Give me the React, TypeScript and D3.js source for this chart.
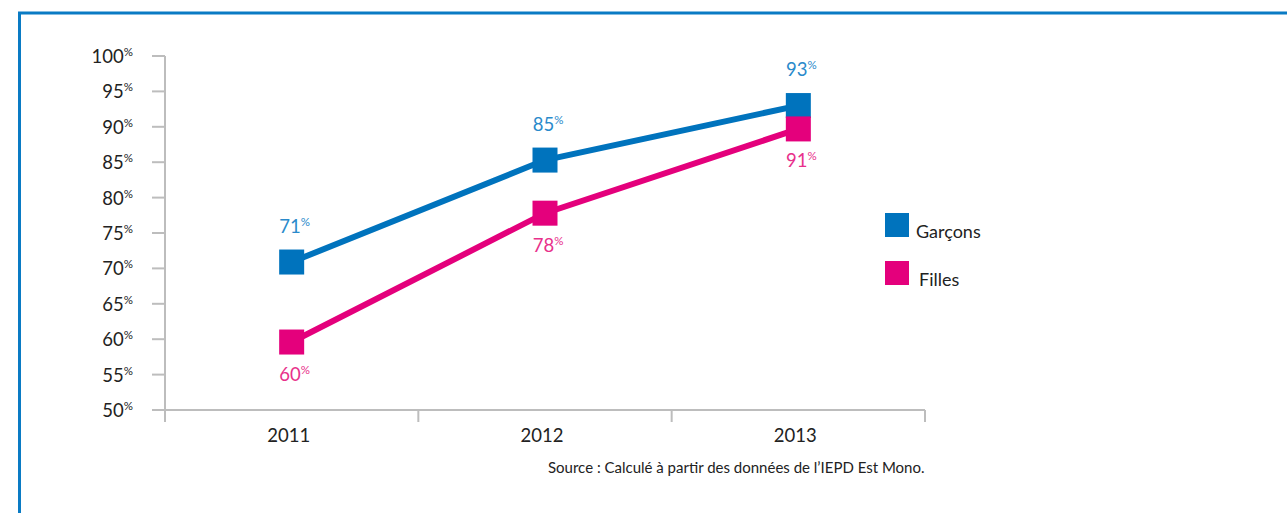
import React from "react";
import * as d3 from "d3";

const years = ["2011", "2012", "2013"];
const garcons = [70.9, 85.3, 93.0];
const filles = [59.6, 77.8, 89.7];
const garconsLabels = ["71", "85", "93"];
const fillesLabels = ["60", "78", "91"];
const yTicks = [50, 55, 60, 65, 70, 75, 80, 85, 90, 95, 100];
const seriesNames = ["Garçons", "Filles"];
const source = "Source : Calculé à partir des données de l’IEPD Est Mono.";

const BLUE = "#0073bd";
const PINK = "#e4007c";
const BLUE_TXT = "#2a8acb";
const PINK_TXT = "#e8308b";
const AXIS = "#bdbdbd";
const FONT = "Lato, 'Open Sans', sans-serif";

export default function App() {
  const W = 1287, H = 513;
  const x = d3.scaleBand<string>().domain(years).range([165, 925]).padding(0);
  const y = d3.scaleLinear().domain([50, 100]).range([410, 56]);
  const cx = (d: string) => (x(d) as number) + x.bandwidth() / 2;
  const line = d3.line<number>().x((_, i) => cx(years[i])).y((v) => y(v));
  const sq = 25;
  const boundaries = [...years.map((d) => x(d) as number), 925];

  return (
    <svg width={W} height={H} style={{ position: "absolute", left: 0, top: 0, background: "#fff" }}>
      <rect x={19.5} y={13} width={W + 20} height={H + 20} fill="none" stroke="#0a7bc4" strokeWidth={3} />
      {/* y axis */}
      <line x1={165} x2={165} y1={y(100)} y2={y(50) + 12} stroke={AXIS} strokeWidth={2} />
      {yTicks.map((t) => (
        <g key={t}>
          <line x1={152} x2={165} y1={y(t)} y2={y(t)} stroke={AXIS} strokeWidth={2} />
          <text x={133} y={y(t) + 7} textAnchor="end" fontFamily={FONT} fill="#222" fontSize={18.5}>
            {t}
            <tspan fontSize={11.5} dy={-7}>%</tspan>
          </text>
        </g>
      ))}
      {/* x axis */}
      <line x1={152} x2={925} y1={y(50)} y2={y(50)} stroke={AXIS} strokeWidth={2} />
      {boundaries.slice(1).map((b, i) => (
        <line key={i} x1={b} x2={b} y1={y(50)} y2={y(50) + 12} stroke={AXIS} strokeWidth={2} />
      ))}
      {years.map((d) => (
        <text key={d} x={cx(d) - 3} y={442} textAnchor="middle" fontFamily={FONT} fontSize={18.5} fill="#222">
          {d}
        </text>
      ))}
      {/* lines */}
      <path d={line(filles) || ""} fill="none" stroke={PINK} strokeWidth={6} />
      <path d={line(garcons) || ""} fill="none" stroke={BLUE} strokeWidth={6} />
      {garcons.map((v, i) => (
        <rect key={"g" + i} x={cx(years[i]) - sq / 2} y={y(v) - sq / 2} width={sq} height={sq} fill={BLUE} />
      ))}
      {filles.map((v, i) => (
        <rect key={"f" + i} x={cx(years[i]) - sq / 2} y={y(v) - sq / 2} width={sq} height={sq} fill={PINK} />
      ))}
      {garcons.map((v, i) => (
        <text key={"gl" + i} x={cx(years[i]) + 3} y={y(v) - sq / 2 - 17} textAnchor="middle" fontFamily={FONT} fontSize={18.5} fill={BLUE_TXT}>
          {garconsLabels[i]}
          <tspan fontSize={11.5} dy={-7}>%</tspan>
        </text>
      ))}
      {filles.map((v, i) => (
        <text key={"fl" + i} x={cx(years[i]) + 3} y={y(v) + sq / 2 + 26} textAnchor="middle" fontFamily={FONT} fontSize={18.5} fill={PINK_TXT}>
          {fillesLabels[i]}
          <tspan fontSize={11.5} dy={-7}>%</tspan>
        </text>
      ))}
      {/* legend */}
      {seriesNames.map((n, i) => (
        <g key={n} transform={`translate(885, ${213 + i * 48})`}>
          <rect x={0} y={0} width={24} height={24} fill={i === 0 ? BLUE : PINK} />
          <text x={i === 0 ? 31 : 34} y={25} fontFamily={FONT} fontSize={18} fill="#222">
            {n}
          </text>
        </g>
      ))}
      <text x={548} y={473} fontFamily={FONT} fontSize={15} fill="#222">
        {source}
      </text>
    </svg>
  );
}
